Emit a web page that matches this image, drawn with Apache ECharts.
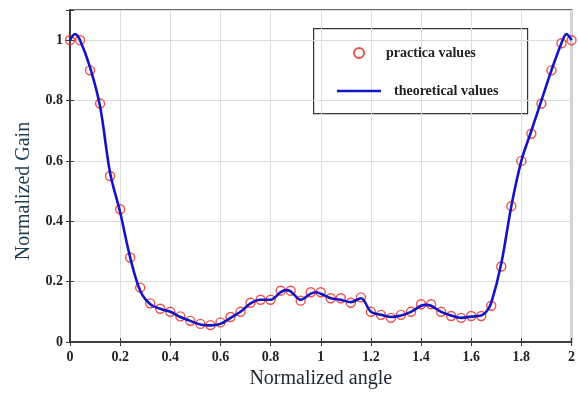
<!DOCTYPE html>
<html>
<head>
<meta charset="utf-8">
<script src="https://cdn.jsdelivr.net/npm/echarts@6/dist/echarts.min.js"></script>
<style>
  html, body { margin: 0; padding: 0; background: #fff; }
  #chart { width: 578px; height: 394px; }
</style>
</head>
<body>
<div id="chart"></div>
<script>
// measured points (red circles)
const practicalX = [0, 0.04, 0.08, 0.12, 0.16, 0.20, 0.24, 0.28, 0.32, 0.36, 0.40, 0.44, 0.48, 0.52, 0.56, 0.60, 0.64, 0.68, 0.72, 0.76, 0.80, 0.84, 0.88, 0.92, 0.96, 1.00, 1.04, 1.08, 1.12, 1.16, 1.20, 1.24, 1.28, 1.32, 1.36, 1.40, 1.44, 1.48, 1.52, 1.56, 1.60, 1.64, 1.68, 1.72, 1.76, 1.80, 1.84, 1.88, 1.92, 1.96, 2.00];
const practicalY = [1.0, 1.0, 0.90, 0.79, 0.55, 0.44, 0.28, 0.18, 0.128, 0.11, 0.10, 0.085, 0.07, 0.06, 0.056, 0.065, 0.083, 0.10, 0.13, 0.14, 0.14, 0.17, 0.17, 0.137, 0.165, 0.165, 0.145, 0.145, 0.13, 0.148, 0.10, 0.09, 0.08, 0.09, 0.10, 0.125, 0.125, 0.10, 0.086, 0.08, 0.086, 0.086, 0.12, 0.25, 0.45, 0.60, 0.69, 0.79, 0.90, 0.99, 1.0];

// theoretical curve (blue line)
const theoryX = [0, 0.02, 0.04, 0.08, 0.12, 0.16, 0.20, 0.24, 0.28, 0.32, 0.36, 0.40, 0.44, 0.48, 0.52, 0.56, 0.60, 0.64, 0.68, 0.72, 0.76, 0.80, 0.84, 0.86, 0.88, 0.92, 0.96, 0.98, 1.00, 1.04, 1.08, 1.12, 1.16, 1.20, 1.24, 1.28, 1.32, 1.36, 1.40, 1.42, 1.44, 1.48, 1.52, 1.56, 1.60, 1.64, 1.66, 1.68, 1.72, 1.76, 1.80, 1.84, 1.88, 1.92, 1.96, 1.98, 2.00];
const theoryY = [1.0, 1.02, 1.0, 0.91, 0.78, 0.56, 0.43, 0.28, 0.17, 0.125, 0.11, 0.10, 0.083, 0.07, 0.058, 0.055, 0.06, 0.08, 0.10, 0.128, 0.14, 0.14, 0.165, 0.172, 0.168, 0.14, 0.16, 0.165, 0.16, 0.145, 0.14, 0.132, 0.145, 0.10, 0.09, 0.083, 0.088, 0.10, 0.12, 0.123, 0.12, 0.10, 0.088, 0.08, 0.084, 0.088, 0.10, 0.13, 0.26, 0.45, 0.60, 0.70, 0.80, 0.90, 0.99, 1.02, 1.0];

const xTicks = [0, 0.2, 0.4, 0.6, 0.8, 1, 1.2, 1.4, 1.6, 1.8, 2];
const yTicks = [0, 0.2, 0.4, 0.6, 0.8, 1];

const serif = '"Liberation Serif", "Times New Roman", serif';
const frameColor = '#3a3a3a';

const chart = echarts.init(document.getElementById('chart'));

const tickLabel = (ticks) => (v) => ticks.some(t => Math.abs(t - v) < 1e-6) ? String(+v.toFixed(1)) : '';

const option = {
  backgroundColor: '#fff',
  animation: false,
  grid: { left: 70, right: 5, top: 10, bottom: 51, show: true, borderColor: frameColor, borderWidth: 1.5 },
  xAxis: [
    {
      type: 'value', min: 0, max: 2, interval: 0.2,
      name: 'Normalized angle', nameLocation: 'middle', nameGap: 27,
      nameTextStyle: { fontFamily: serif, fontSize: 20, color: '#1e2630' },
      axisLine: { show: true, onZero: false, lineStyle: { color: frameColor, width: 1.5 } },
      axisTick: { show: true, inside: true, length: 4, lineStyle: { color: frameColor } },
      axisLabel: { fontFamily: serif, fontWeight: 'bold', fontSize: 14, color: '#222', margin: 8, formatter: tickLabel(xTicks) },
      splitLine: { show: true, lineStyle: { color: '#dcdcdc', width: 1 } }
    },
    {
      type: 'value', position: 'top', min: 0, max: 2, interval: 0.2,
      axisLine: { show: true, lineStyle: { color: frameColor, width: 1.5 } },
      axisTick: { show: true, inside: true, length: 4, lineStyle: { color: frameColor } },
      axisLabel: { show: false },
      splitLine: { show: false }
    }
  ],
  yAxis: [
    {
      type: 'value', min: 0, max: 1.1, interval: 0.2,
      name: 'Normalized Gain', nameLocation: 'middle', nameGap: 36,
      nameTextStyle: { fontFamily: serif, fontSize: 20, color: '#1d3b4f', padding: [0, 30, 0, 0] },
      axisLine: { show: true, onZero: false, lineStyle: { color: frameColor, width: 1.5 } },
      axisTick: { show: true, inside: true, length: 4, lineStyle: { color: frameColor } },
      axisLabel: { fontFamily: serif, fontWeight: 'bold', fontSize: 14, color: '#222', margin: 7, formatter: tickLabel(yTicks) },
      splitLine: { show: true, lineStyle: { color: '#dcdcdc', width: 1 } }
    },
    {
      type: 'value', position: 'right', min: 0, max: 1.1, interval: 0.2,
      axisLine: { show: true, lineStyle: { color: frameColor, width: 1.5 } },
      axisTick: { show: true, inside: true, length: 4, lineStyle: { color: frameColor } },
      axisLabel: { show: false },
      splitLine: { show: false }
    }
  ],
  legend: {
    orient: 'vertical',
    left: 337, top: 46,
    itemWidth: 44, itemHeight: 10, itemGap: 24,
    padding: 0,
    textStyle: { fontFamily: serif, fontWeight: 'bold', fontSize: 14, color: '#222' },
    data: [
      { name: 'practica values', icon: 'circle' },
      {
        name: 'theoretical values',
        icon: 'path://M0,0 L44,0 L44,2.6 L0,2.6 Z',
        itemStyle: { color: '#1414c4' },
        textStyle: { padding: [0, 0, 0, 8] }
      }
    ]
  },
  graphic: [
    {
      type: 'rect', left: 313, top: 28, z: 0,
      shape: { width: 214, height: 85 },
      style: { fill: '#fff', stroke: '#333', lineWidth: 1.2 }
    }
  ],
  series: [
    {
      name: 'practica values',
      type: 'scatter',
      data: practicalX.map((x, i) => [x, practicalY[i]]),
      symbol: 'circle', symbolSize: 9,
      itemStyle: { color: 'rgba(255,255,255,0)', borderColor: '#e8261e', borderWidth: 1.4 },
      z: 2
    },
    {
      name: 'theoretical values',
      type: 'line',
      data: theoryX.map((x, i) => [x, theoryY[i]]),
      smooth: 0.35,
      symbol: 'none',
      lineStyle: { color: '#1414c4', width: 2.6 },
      itemStyle: { color: '#1414c4' },
      z: 3
    }
  ]
};

chart.setOption(option);
</script>
</body>
</html>
